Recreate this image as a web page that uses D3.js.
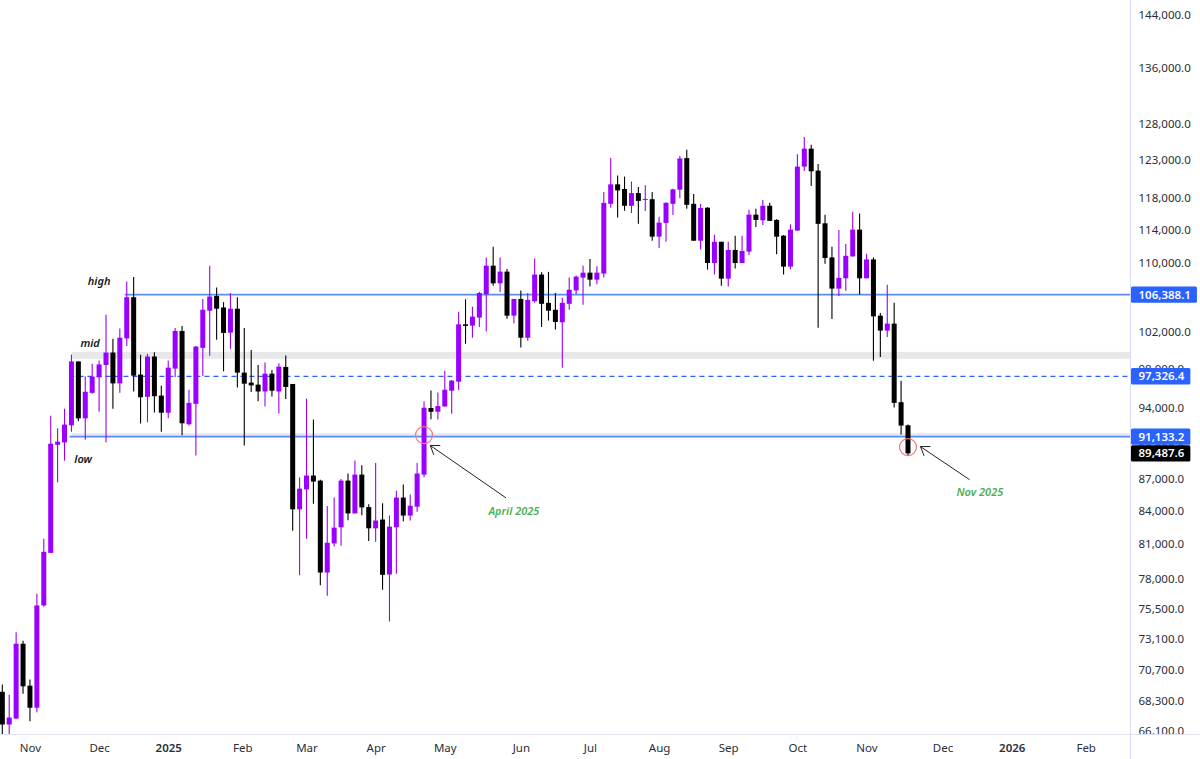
<!DOCTYPE html>
<html>
<head>
<meta charset="utf-8">
<script src="https://cdnjs.cloudflare.com/ajax/libs/d3/7.8.5/d3.min.js"></script>
<style>
    html, body { margin: 0; padding: 0; background: #fff; overflow: hidden; }
    svg { display: block; }
    text { font-family: "Noto Sans", sans-serif; }
</style>
</head>
<body>
<script>
// 3 day bars
const opens = [
    69010, 66590, 67020, 72720, 69470, 67820, 75820, 80290, 90330, 90560,
    92270, 98920, 92970, 95590, 97220, 98540, 99880, 96580, 101430, 106090,
    97510, 95170, 99450, 95310, 93540, 98150, 102260, 92370, 94450, 100390,
    104540, 106250, 104910, 102070, 104770, 97720, 96660, 96450, 95730, 97610,
    95730, 98330, 96520, 84190, 86040, 87350, 86870, 78590, 81120, 82560,
    86870, 83820, 87440, 84400, 82470, 83260, 78420, 82560, 85280, 83620,
    84430, 87440, 94020, 93640, 94180, 95810, 96760, 103000, 102860, 103760,
    106450, 109800, 107710, 109090, 103980, 105890, 101510, 105630, 108740, 105440,
    104650, 103230, 105330, 106880, 108380, 108970, 108140, 108860, 117460, 119980,
    119370, 117210, 118840, 117960, 118050, 113330, 115040, 117460, 119280, 123460,
    117460, 112830, 116960, 110120, 112700, 108260, 111700, 110120, 111500, 116080,
    115370, 117210, 115420, 113450, 109690, 114080, 122320, 124740, 121790, 114990,
    110790, 107090, 108300, 110910, 114200, 108300, 110550, 103980, 102300, 103080,
    94620, 92270
]
const highs = [
    69550, 68780, 73630, 72960, 69930, 76790, 81540, 93240, 91970, 93950,
    99630, 98920, 97330, 98680, 99030, 104090, 101400, 102520, 107910, 108460,
    99630, 99740, 99920, 96340, 99030, 102600, 102820, 95910, 100610, 105890,
    109800, 107230, 105520, 106570, 106090, 102600, 100170, 98540, 98810, 98010,
    98710, 99560, 96520, 87160, 94990, 92840, 86940, 84490, 85280, 87030,
    87540, 88800, 88330, 84670, 88560, 84760, 83620, 85920, 86490, 85570,
    88560, 94720, 95840, 95630, 97930, 96940, 104430, 105860, 104990, 106720,
    110790, 112080, 110790, 109410, 105890, 106880, 106570, 110670, 109010, 109060,
    106570, 106020, 108380, 108620, 109800, 110600, 109720, 118980, 123460, 121130,
    121000, 120340, 119640, 119850, 118980, 115830, 117670, 119410, 123730, 124600,
    118710, 117420, 117040, 113580, 112700, 112700, 113450, 113450, 116710, 116830,
    117960, 117580, 115490, 113540, 114870, 123990, 126340, 125260, 122670, 116080,
    112080, 114150, 112430, 116460, 116210, 111230, 110790, 104280, 107550, 105440,
    96870, 92340
]
const lows = [
    65830, 65830, 67020, 68860, 66830, 67480, 75710, 80290, 86710, 88780,
    91630, 92670, 90830, 95490, 93640, 90560, 93950, 95590, 100610, 95730,
    92440, 92570, 93570, 91630, 92970, 97260, 91260, 92240, 89280, 97370,
    99530, 101290, 97860, 100280, 96160, 90260, 95670, 94720, 94180, 95200,
    93470, 94960, 82260, 78360, 81540, 84700, 77500, 76620, 80850, 80910,
    83190, 83820, 83640, 81330, 81270, 77130, 74500, 78480, 83100, 83170,
    83980, 87180, 92870, 92840, 94180, 93440, 95880, 100840, 101510, 102710,
    102190, 107430, 106690, 103640, 103120, 100420, 101170, 105440, 102710, 103420,
    102410, 98250, 104650, 106450, 105220, 107350, 107610, 108380, 116960, 115710,
    116580, 116290, 114920, 116550, 112830, 111950, 112700, 116040, 118180, 116830,
    112830, 111740, 109330, 108740, 107430, 107350, 109450, 110120, 111070, 114540,
    114790, 115290, 111170, 108740, 109370, 114080, 121750, 119770, 102630, 110040,
    103610, 106240, 106840, 110910, 106400, 108300, 99000, 99390, 101590, 94080,
    91340, 89330
]
const closes = [
    66590, 67100, 72720, 69420, 67820, 75820, 80380, 90430, 90630, 92340,
    98920, 92970, 95700, 97300, 98600, 99880, 96580, 101510, 106090, 97400,
    95130, 99450, 95240, 93540, 98250, 102260, 92470, 94550, 100530, 104650,
    106170, 104770, 102040, 104770, 97720, 96550, 96370, 95730, 97610, 95810,
    98360, 96200, 84190, 86110, 87350, 86780, 78590, 81180, 82530, 86870,
    83820, 87440, 84370, 82470, 83170, 78390, 82620, 85280, 83620, 84520,
    87540, 94050, 93640, 94220, 95910, 96870, 103000, 102820, 103870, 106570,
    109800, 107710, 109090, 103980, 105890, 101510, 105780, 108740, 105330, 104540,
    103270, 105440, 106960, 108500, 108970, 108140, 108970, 117580, 119980, 119190,
    117210, 118840, 117830, 118090, 113330, 115080, 117580, 119320, 123410, 117330,
    112830, 116920, 110120, 112700, 108260, 111700, 110120, 111580, 116080, 115420,
    117210, 115290, 113330, 109690, 114200, 122320, 124740, 121700, 114920, 110720,
    107090, 108350, 110990, 114200, 108300, 110550, 103900, 102300, 103080, 94550,
    92240, 89487.6
]

const priceTicks = [144000, 136000, 128000, 123000, 118000, 114000, 110000, 102000, 98000,
    94000, 90000, 87000, 84000, 81000, 78000, 75500, 73100, 70700, 68300, 66100]
const timeBars = [4, 14, 24, 34.7, 44, 54, 64, 75, 85, 95, 105, 115, 125, 136, 146, 156.7]
const timeLabels = ['Nov', 'Dec', '2025', 'Feb', 'Mar', 'Apr', 'May', 'Jun', 'Jul', 'Aug', 'Sep', 'Oct', 'Nov', 'Dec', '2026', 'Feb']

// levels drawn on the chart: price, first bar, style
const levelPrices = [106388.1, 97326.4, 91133.2]
const levelBars = [18, 10, 10]
const levelDashed = [false, true, false]
const lastPrice = 89487.6

// grey zones
const zoneTops = [99950, 91470]
const zoneBottoms = [99200, 91133.2]
const zoneBar = 10

// notes
const noteTexts = ['high', 'mid', 'low', 'April 2025', 'Nov 2025']
const noteBars = [14, 12.7, 11.7, 74, 141.4]
const notePrices = [107950, 100910, 88970, 84070, 85820]
const noteGreen = [false, false, false, true, true]

const circleBars = [61, 131]
const circlePrices = [91290, 90100]

const arrowFromBars = [72.85, 139.9]
const arrowFromPrices = [85250, 86960]
const arrowToBars = [61.9, 132.8]
const arrowToPrices = [90260, 90150]

const w = 1200
const h = 759
const plotRight = 1130
const plotBottom = 734.5

const purple = '#9900ff'
const blue = '#2962ff'
const lineBlue = '#5c8df6'

const x = d3.scaleLinear().domain([0, 131]).range([2.3, 908])
const y = d3.scaleLog().domain([66100, 144000]).range([731.3, 16.9])
// axis labels sit a little higher near the top of the picture than the candles do
const yLabels = y.copy().range([731.3, 15])

const svg = d3.select('body').append('svg')
    .attr('width', w)
    .attr('height', h)

svg.append('defs').append('clipPath')
    .attr('id', 'plot-clip')
    .append('rect')
    .attr('x', 0)
    .attr('y', 0)
    .attr('width', plotRight)
    .attr('height', plotBottom)

const plot = svg.append('g').attr('clip-path', 'url(#plot-clip)')

// zones go under the candles
plot.selectAll('.zone')
    .data(zoneTops)
    .enter()
    .append('rect')
    .attr('class', 'zone')
    .attr('x', x(zoneBar))
    .attr('y', d => y(d))
    .attr('width', d => plotRight - x(zoneBar))
    .attr('height', (d, i) => y(zoneBottoms[i]) - y(d))
    .attr('fill', '#e8e8ea')

plot.selectAll('.level')
    .data(levelPrices)
    .enter()
    .append('line')
    .attr('class', 'level')
    .attr('x1', (d, i) => x(levelBars[i]) - 2)
    .attr('x2', plotRight)
    .attr('y1', d => y(d))
    .attr('y2', d => y(d))
    .attr('stroke', (d, i) => levelDashed[i] ? blue : lineBlue)
    .attr('stroke-width', (d, i) => levelDashed[i] ? 1.2 : 1.7)
    .attr('stroke-dasharray', (d, i) => levelDashed[i] ? '5 4' : null)

const bars = plot.selectAll('.bar')
    .data(d3.range(opens.length))
    .enter()
    .append('g')
    .attr('class', 'bar')

const barColor = i => closes[i] >= opens[i] ? purple : '#000'

bars.append('line')
    .attr('x1', i => x(i))
    .attr('x2', i => x(i))
    .attr('y1', i => y(highs[i]))
    .attr('y2', i => y(lows[i]))
    .attr('stroke', barColor)
    .attr('stroke-width', 1.1)

bars.append('rect')
    .attr('x', i => x(i) - 2.5)
    .attr('width', 5)
    .attr('y', i => y(Math.max(opens[i], closes[i])))
    .attr('height', i => Math.max(1, Math.abs(y(opens[i]) - y(closes[i]))))
    .attr('fill', barColor)

plot.selectAll('.ring')
    .data(circleBars)
    .enter()
    .append('circle')
    .attr('class', 'ring')
    .attr('cx', d => x(d))
    .attr('cy', (d, i) => y(circlePrices[i]))
    .attr('r', 8.5)
    .attr('fill', 'none')
    .attr('stroke', '#f4747f')
    .attr('stroke-width', 1.2)

// arrows, open head at the target end
const arrows = plot.selectAll('.arrow')
    .data(arrowToBars)
    .enter()
    .append('g')
    .attr('class', 'arrow')

arrows.append('line')
    .attr('x1', (d, i) => x(arrowFromBars[i]))
    .attr('y1', (d, i) => y(arrowFromPrices[i]))
    .attr('x2', d => x(d))
    .attr('y2', (d, i) => y(arrowToPrices[i]))
    .attr('stroke', '#222')
    .attr('stroke-width', 1)

arrows.append('path')
    .attr('d', (d, i) => {
        const tx = x(d)
        const ty = y(arrowToPrices[i])
        const a = Math.atan2(y(arrowFromPrices[i]) - ty, x(arrowFromBars[i]) - tx)
        const p = s => [tx + 10 * Math.cos(a + s), ty + 10 * Math.sin(a + s)]
        return d3.line()([p(0.6), [tx, ty], p(-0.6)])
    })
    .attr('fill', 'none')
    .attr('stroke', '#222')
    .attr('stroke-width', 1)

plot.selectAll('.note')
    .data(noteTexts)
    .enter()
    .append('text')
    .attr('class', 'note')
    .attr('x', (d, i) => x(noteBars[i]))
    .attr('y', (d, i) => y(notePrices[i]))
    .attr('dy', '0.35em')
    .attr('text-anchor', 'middle')
    .attr('font-size', '11px')
    .attr('font-style', 'italic')
    .attr('font-weight', '600')
    .attr('fill', (d, i) => noteGreen[i] ? '#4caf50' : '#131722')
    .text(d => d)

// axes
const priceAxis = svg.append('g')
    .attr('transform', `translate(${plotRight}, 0)`)
    .call(d3.axisRight(yLabels)
        .tickValues(priceTicks)
        .tickSize(0)
        .tickPadding(8.5)
        .tickFormat(d3.format(',.1f')))

priceAxis.select('.domain').remove()
priceAxis.selectAll('text')
    .attr('font-size', '11.5px')
    .attr('font-family', '"Noto Sans", sans-serif')
    .attr('fill', '#2a2e39')

// white strip hides what falls under the time axis
svg.append('rect')
    .attr('x', 0)
    .attr('y', plotBottom)
    .attr('width', w)
    .attr('height', h - plotBottom)
    .attr('fill', '#fff')

const timeAxis = svg.append('g')
    .attr('transform', `translate(0, ${plotBottom})`)
    .call(d3.axisBottom(x)
        .tickValues(timeBars)
        .tickSize(0)
        .tickPadding(9)
        .tickFormat((d, i) => timeLabels[i]))

timeAxis.select('.domain').remove()
timeAxis.selectAll('text')
    .attr('font-size', '11.5px')
    .attr('font-family', '"Noto Sans", sans-serif')
    .attr('fill', '#2a2e39')
    .attr('font-weight', (d, i) => timeLabels[i].length === 4 ? '600' : 'normal')

svg.append('line')
    .attr('x1', 0)
    .attr('x2', w)
    .attr('y1', plotBottom)
    .attr('y2', plotBottom)
    .attr('stroke', '#e0e3eb')

svg.append('line')
    .attr('x1', plotRight + 0.5)
    .attr('x2', plotRight + 0.5)
    .attr('y1', 0)
    .attr('y2', h)
    .attr('stroke', '#d9dcf0')

// price tags on the axis
const tagPrices = levelPrices.concat([lastPrice])
const tags = svg.selectAll('.tag')
    .data(tagPrices)
    .enter()
    .append('g')
    .attr('class', 'tag')

tags.append('text')
    .attr('x', plotRight + 8.5)
    .attr('y', d => y(d))
    .attr('dy', '0.35em')
    .attr('font-size', '11.5px')
    .attr('font-weight', '600')
    .attr('fill', '#fff')
    .text(d => d3.format(',.1f')(d))

tags.insert('rect', 'text')
    .attr('x', plotRight + 1)
    .attr('y', d => y(d) - 8.2)
    .attr('height', 16.4)
    .attr('width', function () {
        return this.parentNode.querySelector('text').getComputedTextLength() + 13.5
    })
    .attr('rx', 1.5)
    .attr('fill', d => d === lastPrice ? '#000' : blue)
</script>
</body>
</html>
